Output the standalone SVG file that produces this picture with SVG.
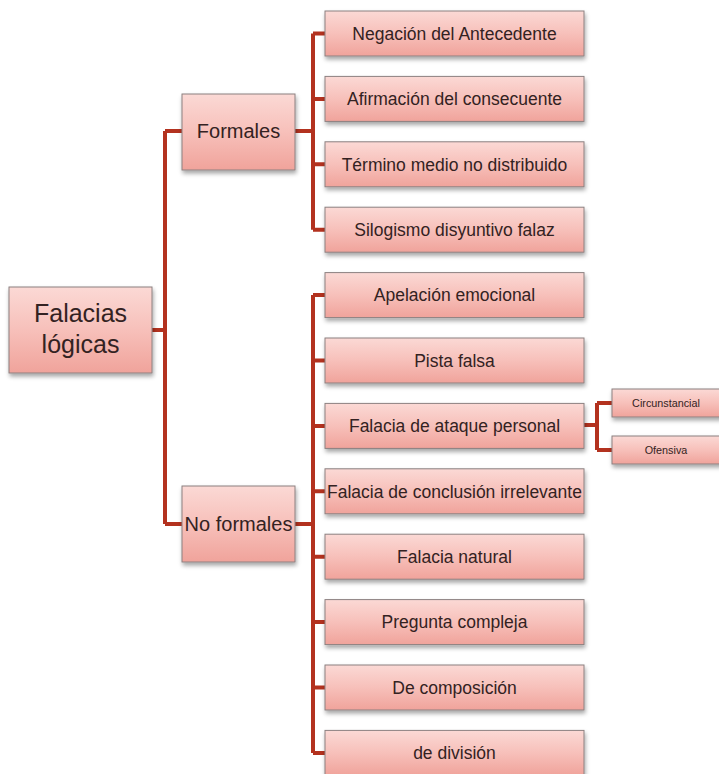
<svg xmlns="http://www.w3.org/2000/svg" width="719" height="774" viewBox="0 0 719 774">
<defs>
<linearGradient id="g" x1="0" y1="0" x2="0" y2="1">
<stop offset="0" stop-color="#fbd9d5"/>
<stop offset="0.5" stop-color="#f7c0ba"/>
<stop offset="1" stop-color="#f0a39b"/>
</linearGradient>
<filter id="sh" x="-10%" y="-10%" width="130%" height="140%">
<feDropShadow dx="1" dy="3" stdDeviation="2" flood-color="#000" flood-opacity="0.35"/>
</filter>
</defs>
<style>
.box{fill:url(#g);stroke:#8c8080;stroke-width:1;filter:url(#sh)}
.t{font-family:"Liberation Sans",Arial,sans-serif;fill:#332222;text-anchor:middle}
.leaf{font-size:17.5px}
.mid{font-size:20px}
.root{font-size:25px}
.sm{font-size:10.8px}
.c{fill:none;stroke:#b3321f;stroke-width:4}
</style>
<rect width="719" height="774" fill="#ffffff"/>
<g id="connectors">
<path class="c" d="M152 330H165M165 131V524M165 131H182M165 524H182"/>
<path class="c" d="M295 131H313M313 33.5V229.7M313 33.5H325M313 98.9H325M313 164.3H325M313 229.7H325"/>
<path class="c" d="M295 524H313M313 295.1V752.9M313 295.1H325M313 360.5H325M313 425.9H325M313 491.3H325M313 556.7H325M313 622.1H325M313 687.5H325M313 752.9H325"/>
<path class="c" d="M584 425H597M597 403V450M597 403H612M597 450H612"/>
</g>
<g id="root"><rect class="box" x="9" y="287" width="143" height="86"/><text class="t root" x="80.5" y="322">Falacias</text><text class="t root" x="80.5" y="353">lógicas</text></g>
<g id="formales"><rect class="box" x="182" y="94" width="113" height="76"/><text class="t mid" x="238.5" y="138">Formales</text></g>
<g id="noformales"><rect class="box" x="182" y="486" width="113" height="76"/><text class="t mid" x="238.5" y="531">No formales</text></g>
<g id="n1"><rect class="box" x="325" y="11" width="259" height="45"/><text class="t leaf" x="454.5" y="39.8">Negación del Antecedente</text></g>
<g id="n2"><rect class="box" x="325" y="76.4" width="259" height="45"/><text class="t leaf" x="454.5" y="105.2">Afirmación del consecuente</text></g>
<g id="n3"><rect class="box" x="325" y="141.8" width="259" height="45"/><text class="t leaf" x="454.5" y="170.6">Término medio no distribuido</text></g>
<g id="n4"><rect class="box" x="325" y="207.2" width="259" height="45"/><text class="t leaf" x="454.5" y="236">Silogismo disyuntivo falaz</text></g>
<g id="n5"><rect class="box" x="325" y="272.6" width="259" height="45"/><text class="t leaf" x="454.5" y="301.4">Apelación emocional</text></g>
<g id="n6"><rect class="box" x="325" y="338" width="259" height="45"/><text class="t leaf" x="454.5" y="366.8">Pista falsa</text></g>
<g id="n7"><rect class="box" x="325" y="403.4" width="259" height="45"/><text class="t leaf" x="454.5" y="432.2">Falacia de ataque personal</text></g>
<g id="n8"><rect class="box" x="325" y="468.8" width="259" height="45"/><text class="t leaf" x="454.5" y="497.6">Falacia de conclusión irrelevante</text></g>
<g id="n9"><rect class="box" x="325" y="534.2" width="259" height="45"/><text class="t leaf" x="454.5" y="563">Falacia natural</text></g>
<g id="n10"><rect class="box" x="325" y="599.6" width="259" height="45"/><text class="t leaf" x="454.5" y="628.4">Pregunta compleja</text></g>
<g id="n11"><rect class="box" x="325" y="665" width="259" height="45"/><text class="t leaf" x="454.5" y="693.8">De composición</text></g>
<g id="n12"><rect class="box" x="325" y="730.4" width="259" height="45"/><text class="t leaf" x="454.5" y="759.2">de división</text></g>
<g id="s1"><rect class="box" x="612" y="389" width="110" height="28"/><text class="t sm" x="666" y="407">Circunstancial</text></g>
<g id="s2"><rect class="box" x="612" y="436" width="110" height="28"/><text class="t sm" x="666" y="454">Ofensiva</text></g>
</svg>
